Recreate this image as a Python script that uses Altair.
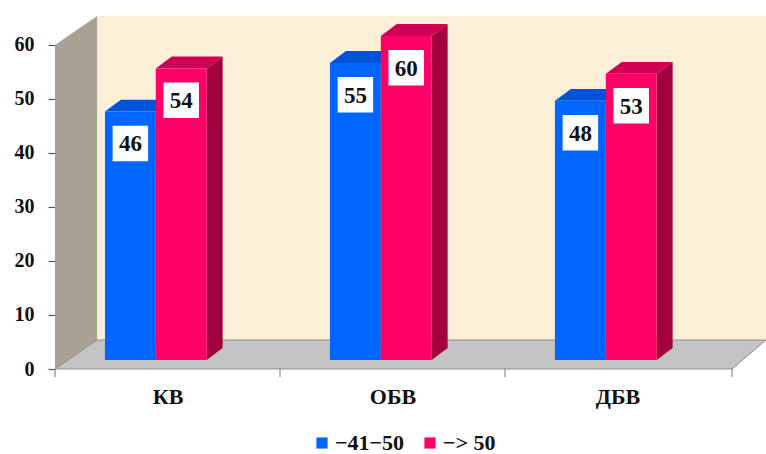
import json
import altair as alt
import pandas as pd

# ---- chart data -------------------------------------------------------------
categories = ["КВ", "ОБВ", "ДБВ"]
groups = ["−41−50", "−> 50"]
values_41_50 = [46, 55, 48]
values_over_50 = [54, 60, 53]
y_ticks = [0, 10, 20, 30, 40, 50, 60]
series_values = [values_41_50, values_over_50]

# ---- styling ----------------------------------------------------------------
FONT = "Liberation Serif"
front_colors = ["#0066ff", "#ff0066"]
top_colors = ["#0053d8", "#cf0054"]
side_colors = ["#0042b0", "#a3003f"]
WALL_BACK = "#fcefd7"
WALL_LEFT = "#a9a294"
FLOOR = "#c3c3c3"

# ---- pseudo-3D geometry (x: one unit per category slot, y: value units) ----
Y_MAX = 60
WALL_DX, WALL_DY = 0.187, 5.37      # depth of walls / floor
BAR_LEFT, BAR_W = 0.222, 0.226      # front face of first bar inside slot
BAR_Z = 1.67                        # lift of bar front face above floor edge
BAR_DX, BAR_DY = 0.071, 2.2         # bar depth
LABEL_DROP = 5.9                    # value label distance below bar top
X_MAX = 3.16
FLOOR_RIGHT_FRONT, FLOOR_RIGHT_BACK = 3.009, 3.16

x_scale = alt.Scale(domain=[0, X_MAX], nice=False, zero=False)
y_scale = alt.Scale(domain=[0, Y_MAX + WALL_DY], nice=False, zero=False)

label_expr = "%s[floor(datum.value)]" % json.dumps(categories, ensure_ascii=False)
x_axis = alt.Axis(
    values=[i + 0.5 for i in range(len(categories))],
    labelExpr=label_expr, title=None, ticks=False, domain=False, grid=False,
    labelFont=FONT, labelFontWeight="bold", labelFontSize=22,
    labelColor="#111111", labelPadding=17,
)
y_axis = alt.Axis(
    values=y_ticks, title=None, domain=False, grid=False,
    tickColor="#555555", tickSize=7, tickWidth=1.2,
    labelFont=FONT, labelFontWeight="bold", labelFontSize=20,
    labelColor="#111111", labelPadding=14,
)


def X(field):
    return alt.X(field, type="quantitative", scale=x_scale, axis=x_axis)


def Y(field):
    return alt.Y(field, type="quantitative", scale=y_scale, axis=y_axis)


# ---- walls and floor --------------------------------------------------------
back_wall = alt.Chart(pd.DataFrame(
    {"x": [WALL_DX], "x2": [X_MAX], "y": [WALL_DY], "y2": [Y_MAX + WALL_DY]}
)).mark_rect(color=WALL_BACK).encode(x=X("x"), x2="x2", y=Y("y"), y2="y2")

left_wall = alt.Chart(pd.DataFrame(
    {"x": [0, WALL_DX], "y": [0, WALL_DY], "y2": [Y_MAX, Y_MAX + WALL_DY]}
)).mark_area(color=WALL_LEFT, orient="vertical").encode(
    x=X("x"), y=Y("y"), y2="y2")

floor = alt.Chart(pd.DataFrame(
    {"y": [0, WALL_DY], "x": [0, WALL_DX],
     "x2": [FLOOR_RIGHT_FRONT, FLOOR_RIGHT_BACK]}
)).mark_area(color=FLOOR, stroke="#8f8f8f", strokeWidth=1,
             orient="horizontal").encode(y=Y("y"), x=X("x"), x2="x2")

floor_ticks = alt.Chart(pd.DataFrame(
    {"x": [0, 1, 2, FLOOR_RIGHT_FRONT], "y": [0] * 4, "y2": [-1.5] * 4}
)).mark_rule(color="#777777", strokeWidth=1).encode(
    x=X("x"), y=Y("y"), y2="y2")

# ---- bars -------------------------------------------------------------------
fronts, tops, sides = [], [], []
for i, cat in enumerate(categories):
    for j, grp in enumerate(groups):
        v = series_values[j][i]
        xl = i + BAR_LEFT + j * BAR_W
        xr = xl + BAR_W
        fronts.append({"category": cat, "series": grp, "value": v,
                       "x": xl, "x2": xr, "y": BAR_Z, "y2": v + BAR_Z,
                       "xc": (xl + xr) / 2, "yl": v + BAR_Z - LABEL_DROP})
        tops += [
            {"bar": f"{i}-{j}", "j": j, "y": v + BAR_Z, "x": xl, "x2": xr},
            {"bar": f"{i}-{j}", "j": j, "y": v + BAR_Z + BAR_DY,
             "x": xl + BAR_DX, "x2": xr + BAR_DX},
        ]
        sides += [
            {"bar": f"{i}-{j}", "j": j, "x": xr, "y": BAR_Z, "y2": v + BAR_Z},
            {"bar": f"{i}-{j}", "j": j, "x": xr + BAR_DX,
             "y": BAR_Z + BAR_DY, "y2": v + BAR_Z + BAR_DY},
        ]
fronts = pd.DataFrame(fronts)
tops = pd.DataFrame(tops)
sides = pd.DataFrame(sides)

side_layers = [
    alt.Chart(sides[sides.j == j]).mark_area(
        color=side_colors[j], orient="vertical").encode(
        x=X("x"), y=Y("y"), y2="y2", detail="bar:N")
    for j in range(len(groups))
]
top_layers = [
    alt.Chart(tops[tops.j == j]).mark_area(
        color=top_colors[j], orient="horizontal").encode(
        y=Y("y"), x=X("x"), x2="x2", detail="bar:N")
    for j in range(len(groups))
]

front_faces = alt.Chart(fronts).mark_rect().encode(
    x=X("x"), x2="x2", y=Y("y"), y2="y2",
    color=alt.Color(
        "series:N",
        scale=alt.Scale(domain=groups, range=front_colors),
        legend=alt.Legend(
            title=None, orient="none", direction="horizontal",
            legendX=256, legendY=416, symbolType="square", symbolSize=125,
            symbolStrokeWidth=0, labelFont=FONT, labelFontWeight="bold",
            labelFontSize=22, labelColor="#111111", labelOffset=2,
            columnPadding=14, padding=0,
        ),
    ),
)

label_boxes = alt.Chart(fronts).mark_square(
    color="white", opacity=1, size=1260).encode(x=X("xc"), y=Y("yl"))

label_text = alt.Chart(fronts).mark_text(
    font=FONT, fontWeight="bold", fontSize=23, color="#111111",
    baseline="middle", align="center", dy=1).encode(
    x=X("xc"), y=Y("yl"), text="value:Q")

chart = alt.layer(
    back_wall, left_wall, floor, floor_ticks,
    *side_layers, *top_layers, front_faces, label_boxes, label_text,
).properties(
    width=711, height=353,
    autosize=alt.AutoSizeParams(type="none"),
    padding={"left": 55, "top": 16, "right": 0, "bottom": 85},
    background="white",
).configure_view(stroke=None)

chart.save("out.html", embed_options={"renderer": "svg", "actions": False})
